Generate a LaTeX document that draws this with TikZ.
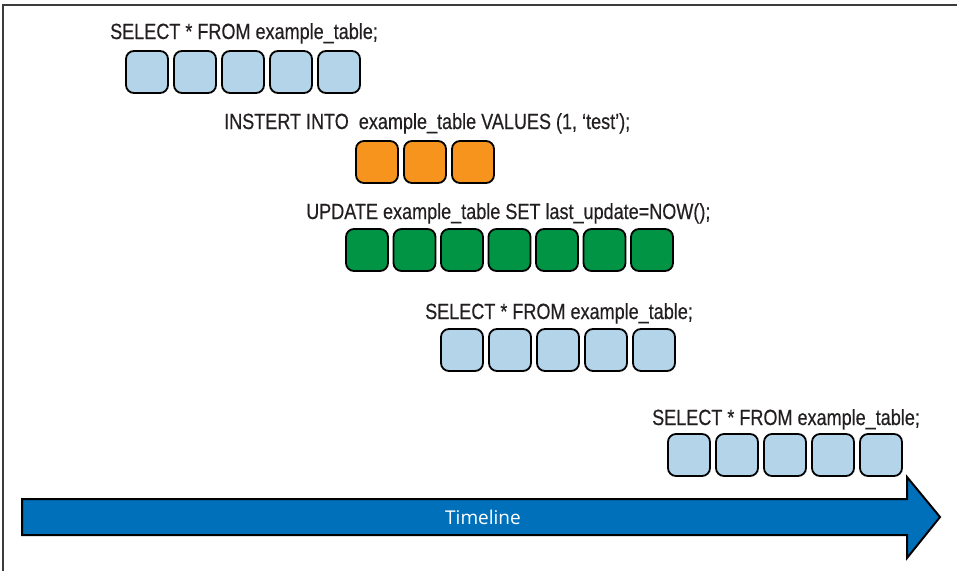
\documentclass[tikz,border=0pt]{standalone}
\usepackage{fontspec}
\setmainfont{Liberation Sans}[FakeStretch=0.82,FakeBold=0.4]
\newfontfamily\tlfont{Open Sans}
\definecolor{lblue}{RGB}{179,212,233}
\definecolor{orng}{RGB}{247,148,30}
\definecolor{grn}{RGB}{0,148,68}
\definecolor{arrowblue}{RGB}{0,112,186}
\definecolor{txt}{RGB}{35,31,32}
\definecolor{framegray}{RGB}{60,60,60}
\begin{document}
\begin{tikzpicture}[x=1pt,y=-1pt,
  cell/.style={draw=black, line width=1.8pt, rounded corners=8pt, minimum width=42pt, minimum height=42pt, inner sep=0pt, outer sep=0pt, anchor=north west},
  lbl/.style={anchor=base west, inner sep=0pt, text=txt, font=\fontsize{22}{26}\selectfont},
  frameline/.style={draw=framegray, line width=1.5pt},
  timearrow/.style={draw=black, line width=2pt, fill=arrowblue, line join=miter}]
\useasboundingbox (0,0) rectangle (957,571);
\draw[frameline] (3,571) -- (3,5) -- (957,5);
% row 1
\node[lbl] (t1) at (110,39) {SELECT * FROM example\_table;};
\foreach \i in {0,...,4} \node[cell, fill=lblue] (a\i) at ({126+48*\i},51) {};
% row 2
\node[lbl] (t2) at (224,129) {INSTERT INTO\ \ example\_table VALUES (1, ‘test’);};
\foreach \i in {0,...,2} \node[cell, fill=orng] (b\i) at ({356+48*\i},141) {};
% row 3
\node[lbl] (t3) at (306,219) {UPDATE example\_table SET last\_update=NOW();};
\foreach \i in {0,...,6} \node[cell, fill=grn] (c\i) at ({346+47.5*\i},229) {};
% row 4
\node[lbl] (t4) at (425,319) {SELECT * FROM example\_table;};
\foreach \i in {0,...,4} \node[cell, fill=lblue] (d\i) at ({441+48*\i},329) {};
% row 5
\node[lbl] (t5) at (652,425) {SELECT * FROM example\_table;};
\foreach \i in {0,...,4} \node[cell, fill=lblue] (e\i) at ({668+48*\i},434) {};
% timeline arrow
\draw[timearrow] (22,499) -- (907,499) -- (907,477) -- (940,517) -- (907,558) -- (907,535) -- (22,535) -- cycle;
\node[text=white, inner sep=0pt, anchor=base, font=\tlfont\fontsize{19}{22}\selectfont] (tl) at (483,524) {Timeline};
\end{tikzpicture}
\end{document}
